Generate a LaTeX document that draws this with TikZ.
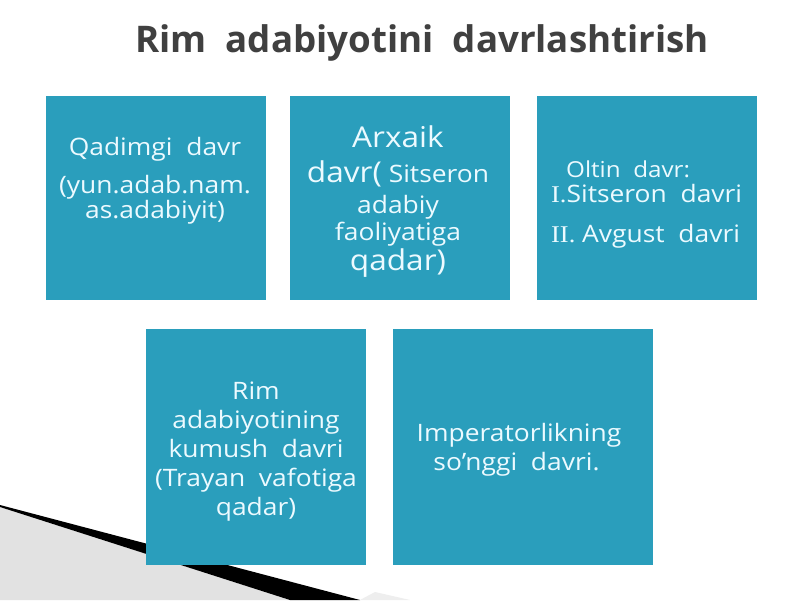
\documentclass[tikz,border=0pt]{standalone}
\usepackage{fontspec}
\setmainfont{Open Sans}
\newfontfamily\boxfont[FakeStretch=1.1]{Open Sans}
\newfontfamily\romnum[FakeStretch=1.1]{Liberation Serif}
\usetikzlibrary{positioning}

\definecolor{tealbox}{RGB}{42,158,188}
\definecolor{titlegray}{RGB}{64,64,64}
\definecolor{boxtext}{RGB}{236,250,255}
\definecolor{swooshgray}{RGB}{226,226,226}

\tikzset{
  period/.style={fill=tealbox, draw=none, inner sep=0pt, anchor=north west,
    minimum width=220pt, minimum height=#1},
  period/.default=204pt,
  periodtext/.style={text=boxtext, align=center, inner sep=0pt,
    font=\boxfont\fontsize{24}{29}\selectfont}
}

\begin{document}
\begin{tikzpicture}[x=1pt,y=-1pt]
    \useasboundingbox (0,0) rectangle (800,600);
    \fill[white] (0,0) rectangle (800,600);

    % Swoosh bottom left
    \fill[swooshgray] (0,507)--(290,600)--(0,600)--cycle;
    \fill[swooshgray!60] (360,600)--(410,600)--(375,592)--cycle;
    \fill[black] (0,505)--(360,600)--(290,600)--(0,507)--cycle;

    % Title
    \node[text=titlegray, font=\fontsize{36.7}{40}\selectfont\bfseries] (title)
      at (422,43) {Rim~ adabiyotini~ davrlashtirish};

    % Top row
    \node[period] (qadim) at (46,96) {};
    \node[period] (arxaik) at (290,96) {};
    \node[period] (oltin) at (537,96) {};

    % Bottom row
    \node[period=236pt] (kumush) at (146,329) {};
    \node[period=236pt, minimum width=260pt] (songgi) at (393,329) {};

    % Texts
    \node[periodtext, anchor=base] (qadimtxt) at (155,155) {Qadimgi~ davr};
    \node[periodtext, anchor=north, font=\boxfont\fontsize{24}{23}\selectfont]
      (qadimtxt2) at (155,175) {(yun.adab.nam.\\as.adabiyit)};

    \node[periodtext, anchor=north] (arxaiktxt) at (398,125) {%
      {\fontsize{28.7}{29}\selectfont Arxaik}\\[6pt]
      {\fontsize{28.7}{29}\selectfont davr(}~Sitseron\\[2pt]
      adabiy\\[-2pt]
      faoliyatiga\\[1pt]
      {\fontsize{28.7}{29}\selectfont qadar)}};

    \node[periodtext, anchor=north west, align=left] (oltintxt) at (551,161) {%
      \hspace*{15pt}{\fontsize{22}{29}\selectfont Oltin~ davr:}\\[-4pt]
      {\romnum I.}Sitseron~ davri\\[11pt]
      {\romnum II.} Avgust~ davri};

    \node[periodtext, anchor=north] (kumushtxt) at (256,382) {%
      Rim\\adabiyotining\\kumush~ davri\\(Trayan~ vafotiga\\qadar)};

    \node[periodtext, anchor=north] (songgitxt) at (519,423) {%
      Imperatorlikning\\\hspace*{-5pt}so’nggi~ davri.};
\end{tikzpicture}
\end{document}
